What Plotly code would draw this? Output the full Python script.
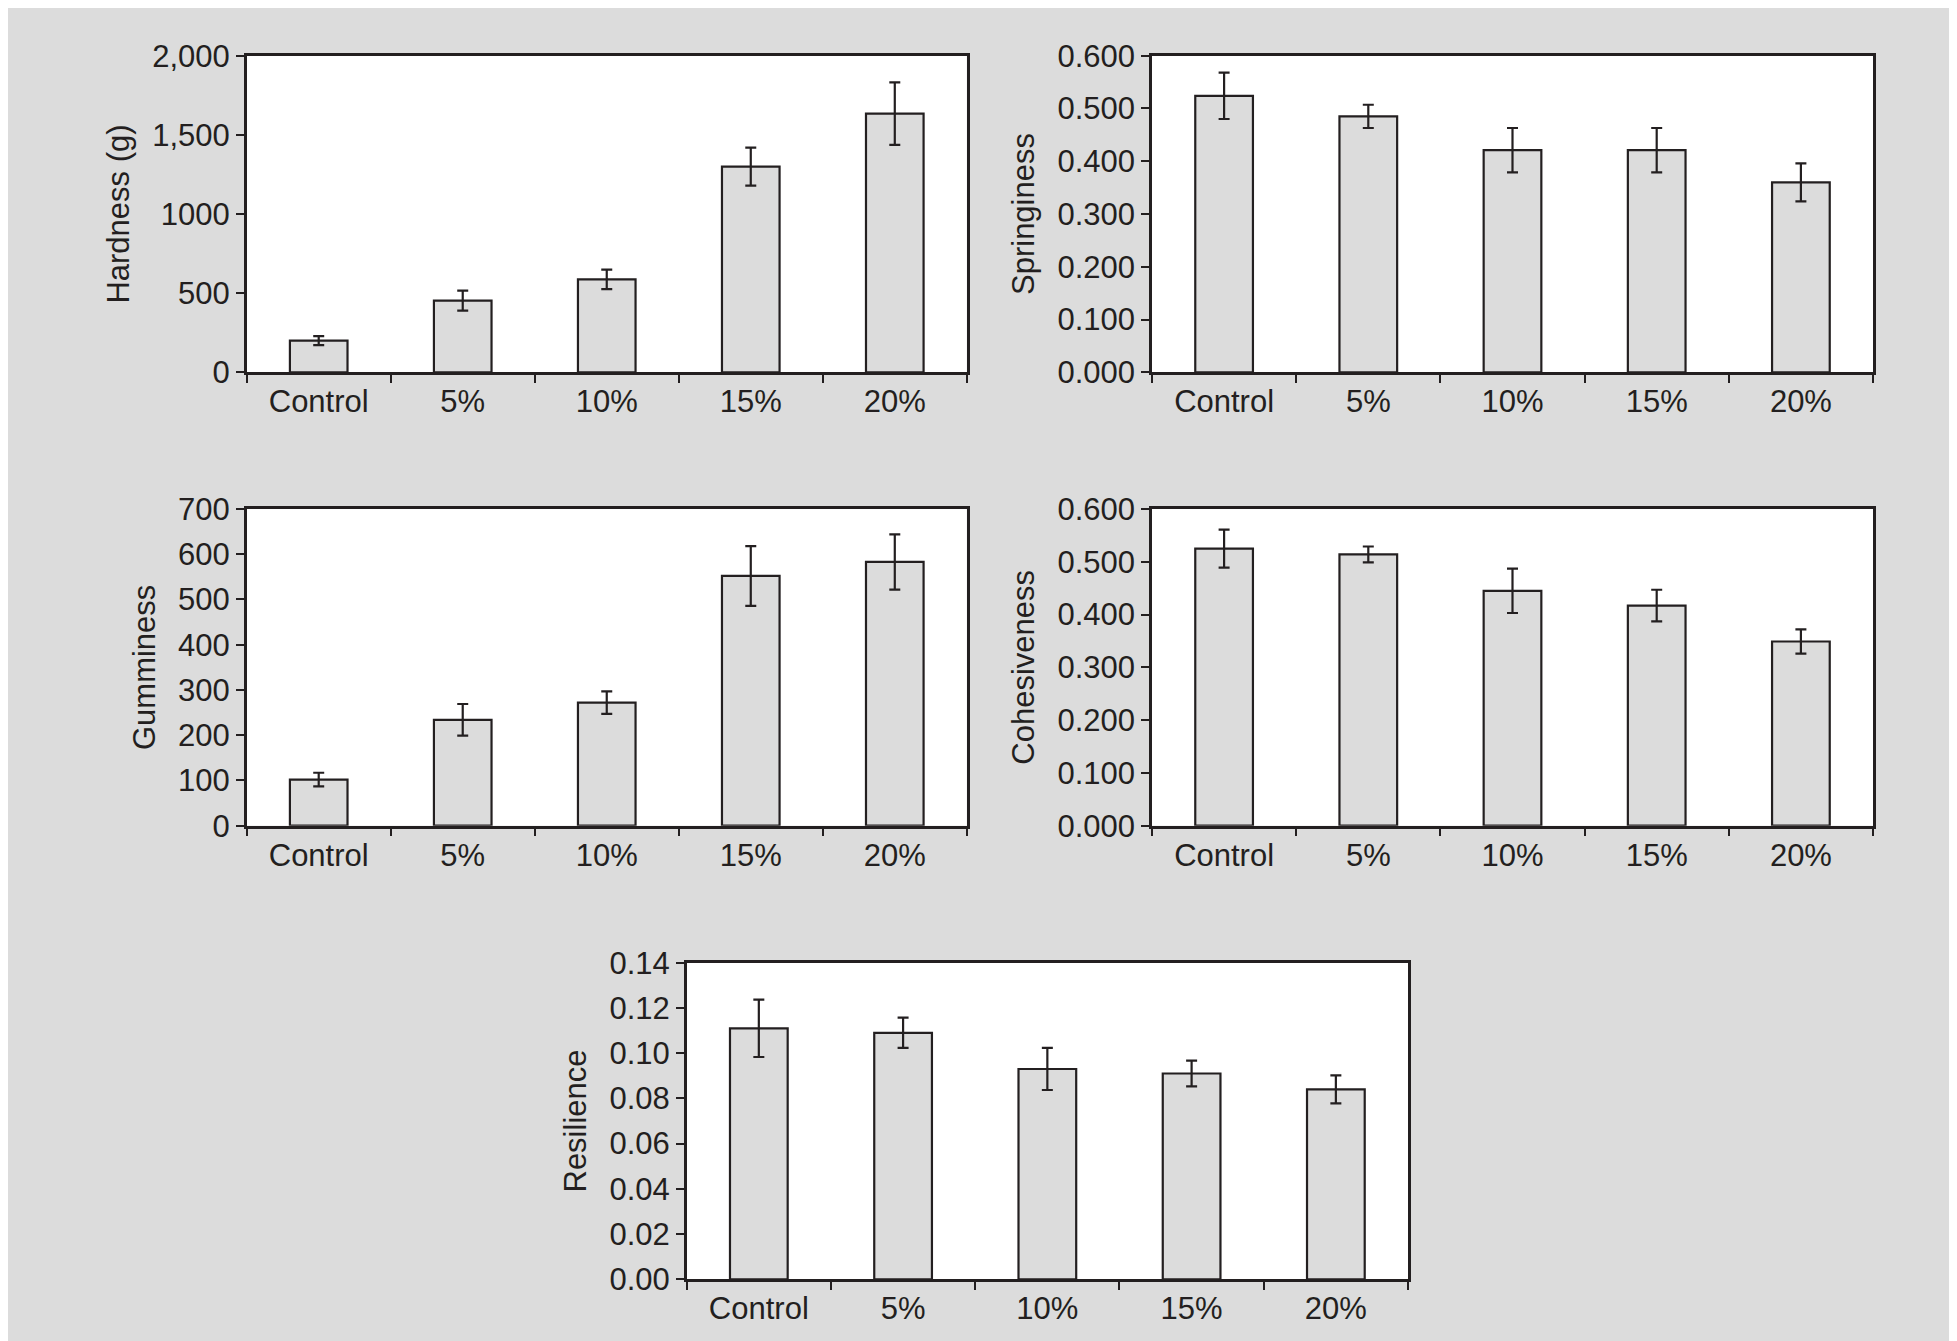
import plotly.graph_objects as go

categories = ["Control", "5%", "10%", "15%", "20%"]

hardness = [200, 453, 587, 1299, 1634]
hardness_err = [28, 63, 61, 120, 197]
hardness_tickvals = [0, 500, 1000, 1500, 2000]
hardness_ticktext = ["0", "500", "1000", "1,500", "2,000"]

springiness = [0.524, 0.485, 0.421, 0.421, 0.360]
springiness_err = [0.044, 0.022, 0.042, 0.042, 0.036]

gumminess = [102, 234, 272, 552, 583]
gumminess_err = [15, 35, 25, 66, 61]

cohesiveness = [0.525, 0.514, 0.445, 0.417, 0.349]
cohesiveness_err = [0.036, 0.015, 0.042, 0.030, 0.023]

resilience = [0.111, 0.109, 0.093, 0.091, 0.084]
resilience_err = [0.0127, 0.0067, 0.0093, 0.0057, 0.0062]

# page body has an 8px margin, so the figure is drawn a bit smaller and offset
OFF = 8
W, H = 1957 - OFF, 1341 - OFF
ink = "#231f20"
grey = "#dcdcdc"
font = "Liberation Sans, Arial, sans-serif"

# (values, errors, x px, y px from top) measured on the full 1957x1341 picture
panels = [
    (hardness, hardness_err, (246.7, 966.8), (55.7, 372.3)),
    (springiness, springiness_err, (1152, 1873), (55.7, 372.3)),
    (gumminess, gumminess_err, (246.7, 966.8), (509, 825.7)),
    (cohesiveness, cohesiveness_err, (1152, 1873), (509, 825.7)),
    (resilience, resilience_err, (686.7, 1408), (962.7, 1279.3)),
]
titles = ["Hardness (g)", "Springiness", "Gumminess", "Cohesiveness", "Resilience"]
ranges = [[0, 2000], [0, 0.6], [0, 700], [0, 0.6], [0, 0.14]]

fig = go.Figure()
layout = {}
for i, (vals, errs, xd, yd) in enumerate(panels):
    n = "" if i == 0 else str(i + 1)
    fig.add_trace(go.Bar(
        x=categories, y=vals, width=0.4,
        xaxis="x" + n, yaxis="y" + n,
        marker_color=grey,
        marker_line=dict(color=ink, width=2.2),
        error_y=dict(type="data", array=errs, color=ink, thickness=2.2, width=5.5),
        showlegend=False,
    ))
    layout["xaxis" + n] = dict(
        type="category",
        domain=[(xd[0] - OFF) / W, (xd[1] - OFF) / W], anchor="y" + n, automargin=False,
        showline=True, linecolor=ink, linewidth=2.5, mirror=True,
        ticks="outside", tickson="boundaries", ticklen=8, tickwidth=2, tickcolor=ink,
        showgrid=False, tickfont=dict(size=31, color=ink, family=font),
    )
    layout["yaxis" + n] = dict(
        domain=[1 - (yd[1] - OFF) / H, 1 - (yd[0] - OFF) / H], anchor="x" + n,
        range=ranges[i], automargin=False,
        showline=True, linecolor=ink, linewidth=2.5, mirror=True,
        ticks="outside", ticklen=8, tickwidth=2, tickcolor=ink,
        showgrid=False, zeroline=False,
        tickfont=dict(size=31, color=ink, family=font),
        title=dict(text=titles[i], font=dict(size=31, color=ink, family=font), standoff=14),
    )

layout["yaxis"].update(tickvals=hardness_tickvals, ticktext=hardness_ticktext)
layout["yaxis2"].update(dtick=0.1, tickformat=".3f")
layout["yaxis3"].update(dtick=100)
layout["yaxis4"].update(dtick=0.1, tickformat=".3f")
layout["yaxis5"].update(dtick=0.02, tickformat=".2f")

fig.update_layout(
    template="none",
    width=W, height=H,
    margin=dict(l=0, r=0, t=0, b=0, pad=0),
    paper_bgcolor=grey, plot_bgcolor="white",
    font=dict(family=font, color=ink),
    **layout,
)
fig.write_html("out.html")
